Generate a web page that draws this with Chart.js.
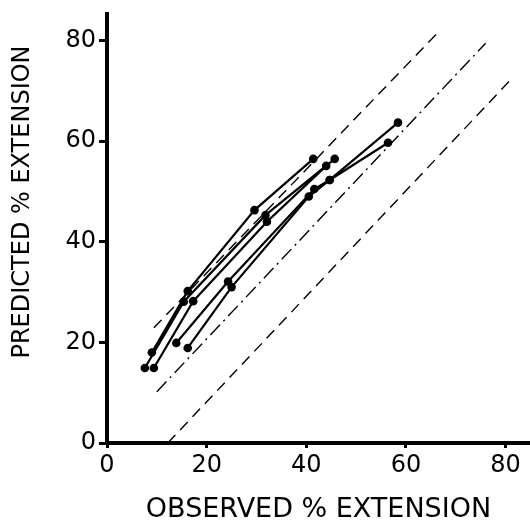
<!DOCTYPE html>
<html>
<head>
<meta charset="utf-8">
<script src="https://cdn.jsdelivr.net/npm/chart.js@4/dist/chart.umd.min.js"></script>
<style>
  html, body { margin: 0; padding: 0; background: #ffffff; }
  #wrap { width: 530px; height: 523px; position: relative; }
</style>
</head>
<body>
<div id="wrap"><canvas id="c" width="530" height="523"></canvas></div>
<script>
// ---- data ----
const xTicks = [0, 20, 40, 60, 80];
const yTicks = [0, 20, 40, 60, 80];
const xTitle = 'OBSERVED % EXTENSION';
const yTitle = 'PREDICTED % EXTENSION';

const obs1 = [9.0, 16.2, 29.6, 41.4];
const pred1 = [18.0, 30.2, 46.3, 56.5];
const obs2 = [7.6, 15.4, 31.8, 45.7];
const pred2 = [14.9, 28.1, 45.3, 56.5];
const obs3 = [9.4, 17.3, 32.1, 44.0];
const pred3 = [14.9, 28.2, 44.0, 55.1];
const obs4 = [13.9, 24.3, 41.6, 44.7, 58.4];
const pred4 = [19.9, 32.1, 50.5, 52.3, 63.7];
const obs5 = [16.2, 25.0, 40.5, 44.7, 56.4];
const pred5 = [18.9, 31.0, 49.0, 52.3, 59.7];

// reference lines (end points)
const upperObs = [9.4, 66.3];
const upperPred = [22.9, 81.5];
const identObs = [10.0, 76.0];
const identPred = [10.2, 79.5];
const lowerObs = [12.2, 81.0];
const lowerPred = [0.0, 72.2];

function pts(xs, ys) { return xs.map((x, i) => ({ x: x, y: ys[i] })); }

const seriesStyle = {
  showLine: true,
  borderColor: '#000',
  backgroundColor: '#000',
  borderWidth: 2.2,
  pointRadius: 4.3,
  pointBorderWidth: 0,
  pointBackgroundColor: '#000'
};
const refStyle = {
  showLine: true,
  borderColor: '#000',
  borderWidth: 1.4,
  pointRadius: 0
};

const datasets = [
  Object.assign({ label: 'upper', data: pts(upperObs, upperPred), borderDash: [11, 7] }, refStyle),
  Object.assign({ label: 'identity', data: pts(identObs, identPred), borderDash: [14, 5, 2, 5] }, refStyle),
  Object.assign({ label: 'lower', data: pts(lowerObs, lowerPred), borderDash: [11, 7] }, refStyle),
  Object.assign({ label: 's1', data: pts(obs1, pred1) }, seriesStyle),
  Object.assign({ label: 's2', data: pts(obs2, pred2) }, seriesStyle),
  Object.assign({ label: 's3', data: pts(obs3, pred3) }, seriesStyle),
  Object.assign({ label: 's4', data: pts(obs4, pred4) }, seriesStyle),
  Object.assign({ label: 's5', data: pts(obs5, pred5) }, seriesStyle)
];

const FONT = "'DejaVu Sans', sans-serif";

const yTitlePlugin = {
  id: 'yTitle',
  afterDraw(chart) {
    const ctx = chart.ctx;
    ctx.save();
    ctx.translate(23, 202);
    ctx.rotate(-Math.PI / 2);
    ctx.fillStyle = '#000';
    ctx.font = "24px " + FONT;
    ctx.textAlign = 'center';
    ctx.textBaseline = 'middle';
    ctx.fillText(yTitle, 0, 0);
    ctx.restore();
  }
};
const bgPlugin = {
  id: 'bg',
  beforeDraw(chart) {
    const ctx = chart.ctx;
    ctx.save();
    ctx.fillStyle = '#fff';
    ctx.fillRect(0, 0, chart.width, chart.height);
    ctx.restore();
  }
};

new Chart(document.getElementById('c'), {
  type: 'scatter',
  data: { datasets: datasets },
  plugins: [bgPlugin, yTitlePlugin],
  options: {
    responsive: false,
    animation: false,
    devicePixelRatio: 1,
    layout: { autoPadding: false, padding: { top: 14, right: 0, left: 0, bottom: 0 } },
    plugins: { legend: { display: false }, tooltip: { enabled: false } },
    scales: {
      x: {
        type: 'linear',
        min: 0,
        max: 84.9,
        afterFit(scale) { scale.height = 80; scale.paddingRight = 0; scale.paddingLeft = 0; },
        afterBuildTicks(scale) { scale.ticks = xTicks.map(v => ({ value: v })); },
        border: { display: true, color: '#000', width: 4 },
        grid: { drawOnChartArea: false, drawTicks: true, tickLength: 5, tickWidth: 3, tickColor: '#000' },
        ticks: {
          includeBounds: false,
          color: '#000',
          font: { family: FONT, size: 24 },
          padding: 3,
          maxRotation: 0
        },
        title: {
          display: true,
          text: xTitle,
          color: '#000',
          font: { family: FONT, size: 27, lineHeight: 1 },
          padding: { top: 0, bottom: 0 }
        }
      },
      y: {
        type: 'linear',
        min: 0,
        max: 85.3,
        afterFit(scale) { scale.width = 107; scale.paddingTop = 0; scale.paddingBottom = 0; },
        afterBuildTicks(scale) { scale.ticks = yTicks.map(v => ({ value: v })); },
        border: { display: true, color: '#000', width: 4 },
        grid: { drawOnChartArea: false, drawTicks: true, tickLength: 8, tickWidth: 3, tickColor: '#000' },
        ticks: {
          includeBounds: false,
          color: '#000',
          font: { family: FONT, size: 24 },
          padding: 3
        },
        title: { display: false }
      }
    }
  }
});
</script>
</body>
</html>
